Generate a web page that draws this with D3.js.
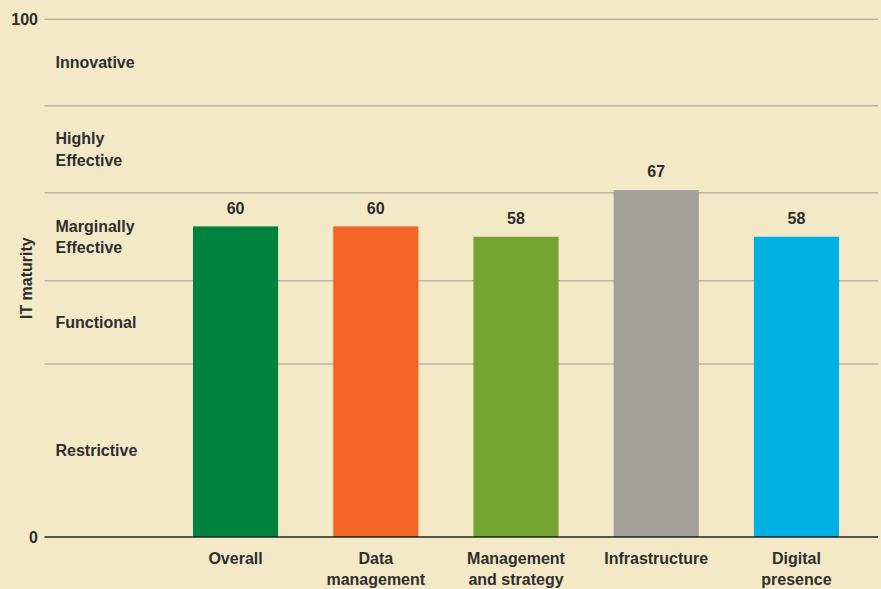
<!DOCTYPE html>
<html><head><meta charset="utf-8">
<script src="https://cdn.jsdelivr.net/npm/d3@7"></script>
<style>
html,body{margin:0;padding:0;background:#f3e9c7;}
svg{display:block;}
text{font-family:"Liberation Sans",Arial,sans-serif;fill:#2e2e2e;}
</style></head><body>
<svg id="chart" width="881" height="589"></svg>
<script>
const categories = [["Overall"],["Data","management"],["Management","and strategy"],["Infrastructure"],["Digital","presence"]];
const values = [60, 60, 58, 67, 58];
const colors = ["#00843d","#f26522","#74a533","#a29e9a","#00b0e3"];
const bandBounds = [0, 33.4, 49.5, 66.5, 83.3, 100];
const bandLabels = [["Restrictive"],["Functional"],["Marginally","Effective"],["Highly","Effective"],["Innovative"]];
const tickValues = [0, 100];
const yTitle = "IT maturity";

const svg = d3.select("#chart");
const left = 44.5, right = 878;
const y = d3.scaleLinear().domain([0,100]).range([537, 19.3]);
const keys = categories.map(c => c.join(" "));
const x = d3.scaleBand().domain(keys).range([165.5, 866.5]).paddingInner(0.393).paddingOuter(0.196);

svg.append("g").selectAll("line").data(bandBounds.slice(1)).join("line")
  .attr("x1", left).attr("x2", right)
  .attr("y1", d => y(d)).attr("y2", d => y(d))
  .attr("stroke", "#bab3a3").attr("stroke-width", 1.5);

const bl = svg.append("g");
bandLabels.forEach((lines, i) => {
  const mid = y((bandBounds[i] + bandBounds[i+1]) / 2);
  const lh = 21.5;
  const t = bl.append("text").attr("x", 55.5).attr("font-size", 16).attr("font-weight", "bold");
  lines.forEach((ln, j) => {
    t.append("tspan").attr("x", 55.5)
      .attr("y", mid + (j - (lines.length - 1) / 2) * lh)
      .attr("dy", "0.35em").text(ln);
  });
});

svg.append("g").selectAll("rect").data(values).join("rect")
  .attr("x", (d,i) => x(keys[i]))
  .attr("width", x.bandwidth())
  .attr("y", d => y(d))
  .attr("height", d => y(0) - y(d))
  .attr("fill", (d,i) => colors[i]);

svg.append("g").selectAll("text").data(values).join("text")
  .attr("x", (d,i) => x(keys[i]) + x.bandwidth()/2)
  .attr("y", d => y(d) - 12.7)
  .attr("text-anchor", "middle").attr("font-size", 16).attr("font-weight", "bold")
  .text(d => d);

svg.append("line").attr("x1", left).attr("x2", right)
  .attr("y1", y(0)).attr("y2", y(0))
  .attr("stroke", "#222").attr("stroke-width", 1.5);

const cl = svg.append("g");
categories.forEach((lines, i) => {
  const cx = x(keys[i]) + x.bandwidth()/2;
  const t = cl.append("text").attr("text-anchor", "middle").attr("font-size", 16).attr("font-weight", "bold");
  lines.forEach((ln, j) => {
    t.append("tspan").attr("x", cx).attr("y", 564 + j * 21).text(ln);
  });
});

svg.append("g").selectAll("text").data(tickValues).join("text")
  .attr("x", 38).attr("y", d => y(d)).attr("dy", "0.35em")
  .attr("text-anchor", "end").attr("font-size", 16).attr("font-weight", "bold")
  .text(d => d);

svg.append("text")
  .attr("transform", `translate(32,${(y(0)+y(100))/2}) rotate(-90)`)
  .attr("text-anchor", "middle").attr("font-size", 16).attr("font-weight", "bold")
  .text(yTitle);
</script>
</body></html>
